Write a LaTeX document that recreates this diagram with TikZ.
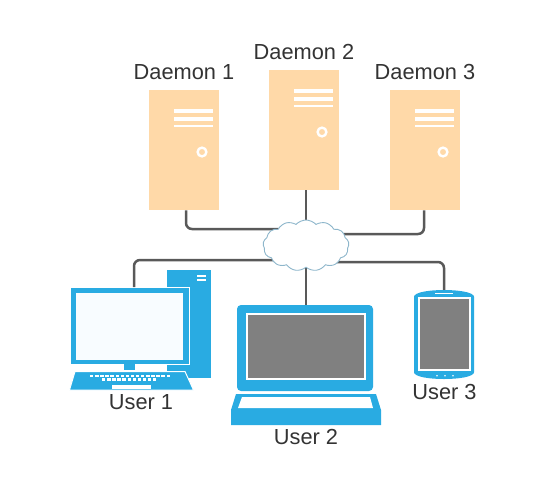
\documentclass[tikz,border=0pt]{standalone}
\usepackage{fontspec}
\setmainfont{Liberation Sans}
\usepackage{xcolor}
\usetikzlibrary{shapes.symbols}
\definecolor{devblue}{HTML}{29ABE2}
\definecolor{peach}{HTML}{FFD9A8}
\definecolor{linegray}{HTML}{595959}
\definecolor{textgray}{HTML}{333333}
\definecolor{cloudline}{HTML}{8DB6CB}
\definecolor{screengray}{HTML}{808080}
\definecolor{screenwhite}{HTML}{F8FCFF}
\def\px{0.02cm}

\begin{document}
\begin{tikzpicture}[x=\px,y=-\px,inner sep=0pt,font=\fontsize{12.4}{14}\selectfont]
    \tikzstyle{server}=[rectangle,fill=peach,minimum width=70*\px,minimum height=120*\px]
    \tikzstyle{blue box}=[rectangle,fill=devblue]
    \tikzstyle{gray box}=[rectangle,fill=screengray,draw=white,line width=2*\px]
    \tikzstyle{link}=[draw=linegray,line width=2.5*\px,rounded corners=6*\px]
    \tikzstyle{annot}=[text=textgray]
    \useasboundingbox (0,0) rectangle (544,495);

    % Draw the daemons
    \foreach \name / \x / \y in {1/184/150,2/304/130,3/425/150} {
        \node[server] (D-\name) at (\x,\y) {};
        \foreach \dy / \w in {-39/3.6,-31/3.6,-24/2.6}
            \draw[white,line width=\w*\px] (\x-10,\y+\dy) -- (\x+29,\y+\dy);
        \draw[white,line width=2.4*\px] (\x+18,\y+2) circle (4.4);
        \node[annot,above of=D-\name,node distance=78*\px] {Daemon \name};
    }

    % Draw the desktop
    \node[blue box,minimum width=44*\px,minimum height=108*\px] (T) at (189,324) {};
    \foreach \y in {276,280}
        \draw[white,line width=1.6*\px] (197,\y) -- (206,\y);
    \node[blue box,draw=white,line width=1*\px,minimum width=119*\px,minimum height=77*\px] (U-1) at (130,326) {};
    \node[rectangle,fill=screenwhite,minimum width=107*\px,minimum height=67*\px] (S-1) at (129.5,326.5) {};
    \node[blue box,minimum width=11*\px,minimum height=6*\px] (N-1) at (129.5,367) {};
    \filldraw[fill=devblue,draw=white,line width=1*\px] (75,371.5) -- (185,371.5) -- (193.5,390) -- (69.5,390) -- cycle;
    \foreach \x in {0,...,15}
        \fill[white] (90+\x*5.1,374.8) rectangle +(3.4,2.6);
    \foreach \x in {0,...,10}
        \fill[white] (102+\x*5.1,378.4) rectangle +(3.4,2.6);
    \fill[white] (112,385) rectangle (151,389);
    \node[annot] at (141,402) {User 1};

    % Draw the laptop
    \node[blue box,rounded corners=4*\px,minimum width=136*\px,minimum height=86*\px] (U-2) at (305,348) {};
    \node[gray box,minimum width=118*\px,minimum height=65*\px] (S-2) at (305.5,346) {};
    \fill[devblue] (236,394) -- (376,394) -- (381,410) -- (381,425) -- (231,425) -- (231,410) -- cycle;
    \fill[white] (242,397) -- (370,397) -- (373,408) -- (238,408) -- cycle;
    \node[annot] at (306,437) {User 2};

    % Draw the tablet
    \node[blue box,rounded corners=2*\px,minimum width=60*\px,minimum height=79*\px] (U-3) at (444,334.5) {};
    \node[annot] at (444.5,392) {User 3};

    % Connect the cloud with every machine
    \coordinate (C-0) at (306,245.5);
    \coordinate (C-1) at (285,229);
    \coordinate (C-3) at (330,234);
    \coordinate (C-4) at (285,260);
    \coordinate (C-6) at (330,262);
    \path[link] ([xshift=2*\px]D-1.south) |- (C-1);
    \path[link] ([xshift=2*\px]D-2.south) -- (C-0);
    \path[link] ([xshift=-1*\px]D-3.south) |- (C-3);
    \path[link] (C-4) -| ([xshift=4*\px]U-1.north);
    \path[link] (C-0) -- ([xshift=1*\px]U-2.north);
    \path[link] (C-6) -| (U-3.north);
    \node[cloud,draw=cloudline,fill=white,line width=0.9*\px,cloud puffs=13,cloud puff arc=95,aspect=1.7,minimum width=86*\px,minimum height=51*\px] (C) at (C-0) {};

    % Finish the tablet
    \fill[devblue] (414,297) .. controls (414,292) and (430,290) .. (444,290) .. controls (458,290) and (474,292) .. (474,297) -- cycle;
    \fill[devblue] (414,372) .. controls (414,377) and (430,379) .. (444,379) .. controls (458,379) and (474,377) .. (474,372) -- cycle;
    \node[gray box,minimum width=51*\px,minimum height=72*\px] (S-3) at (444.5,334) {};
    \draw[white,line width=1*\px] (435,293.2) -- (453,293.2);
    \foreach \x in {437,445,453}
        \fill[white] (\x,375.8) circle (0.9);
\end{tikzpicture}
\end{document}
